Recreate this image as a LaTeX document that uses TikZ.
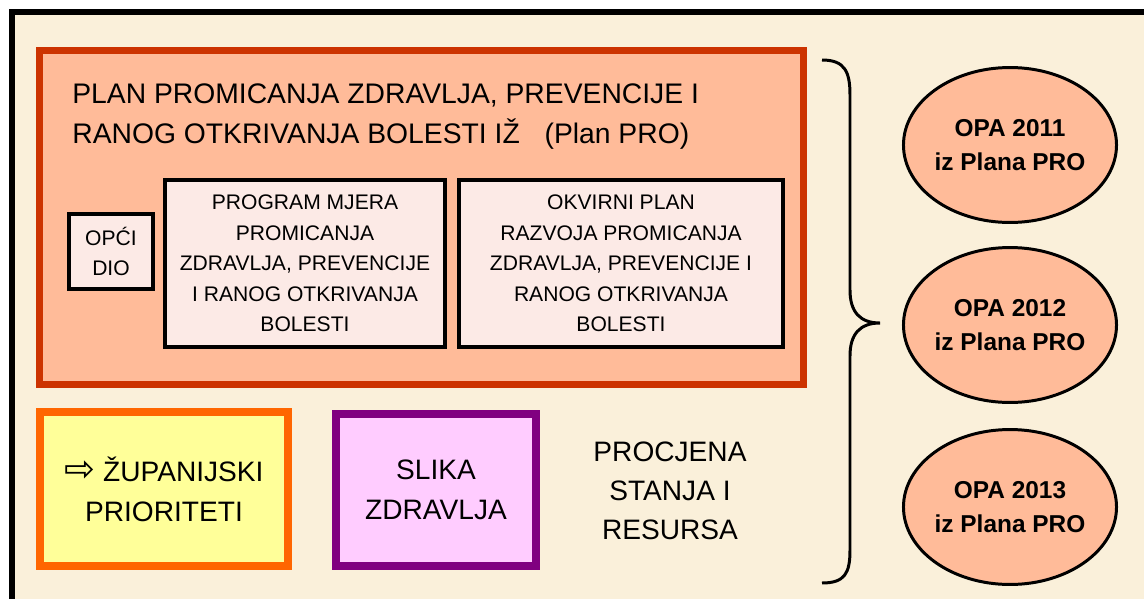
\documentclass[tikz,border=0pt]{standalone}
\usepackage{fontspec}
\setmainfont{Liberation Sans}
\newfontfamily\symfont{DejaVu Sans}
\usetikzlibrary{shapes,positioning}

\definecolor{pozadina}{HTML}{FAF0DA}
\definecolor{planrub}{HTML}{CC3300}
\definecolor{planfill}{HTML}{FFBB99}
\definecolor{diofill}{HTML}{FCEAE6}
\definecolor{zupfill}{HTML}{FFFF99}
\definecolor{zuprub}{HTML}{FF6600}
\definecolor{slikafill}{HTML}{FFCCFF}
\definecolor{slikarub}{HTML}{800080}

\tikzset{
  dio/.style={draw=black, line width=2pt, fill=diofill, align=center, inner sep=0pt,
    font=\fontsize{12pt}{17.4pt}\selectfont},
  veliki/.style={align=center, inner sep=0pt, font=\fontsize{16pt}{22.8pt}\selectfont},
  opa/.style={draw=black, line width=1.7pt, fill=planfill, ellipse, inner sep=0pt,
    minimum width=4.2cm, minimum height=3.1cm, align=center,
    font=\bfseries\fontsize{13.9pt}{19.3pt}\selectfont}
}

\begin{document}
\begin{tikzpicture}[x=0.02cm, y=-0.02cm]
\useasboundingbox (0,0) rectangle (1144,599);
% pozadina i okvir
\fill[white] (0,0) rectangle (1144,599);
\fill[pozadina] (12,12) rectangle (1144,599);
\draw[line width=2.85pt] (12,599) -- (12,12) -- (1144,12);

% Plan PRO
\node[draw=planrub, line width=4pt, fill=planfill, minimum width=15.28cm, minimum height=6.68cm] (plan) at (421.5,217.5) {};
\node[anchor=west, align=left, inner sep=0pt, font=\fontsize{16.1pt}{22.8pt}\selectfont] (naslov) at (72,117) {
PLAN PROMICANJA ZDRAVLJA, PREVENCIJE I \\
RANOG OTKRIVANJA BOLESTI IŽ \hspace{0.6em}(Plan PRO)
};

% dijelovi plana
\node[dio, minimum width=1.68cm, minimum height=1.5cm] (opci) at (111,251.5) {OPĆI\\DIO};
\node[dio, minimum width=5.6cm, minimum height=3.34cm] (program) at (305,263.5) {
PROGRAM MJERA\\
PROMICANJA\\
ZDRAVLJA, PREVENCIJE\\
I RANOG OTKRIVANJA\\
BOLESTI
};
\node[dio, minimum width=6.48cm, minimum height=3.34cm] (okvirni) at (621,263.5) {
OKVIRNI PLAN\\
RAZVOJA PROMICANJA\\
ZDRAVLJA, PREVENCIJE I\\
RANOG OTKRIVANJA\\
BOLESTI
};

% donji red
\node[veliki, draw=zuprub, line width=4.5pt, fill=zupfill, minimum width=4.96cm, minimum height=3.08cm] (zupanijski) at (164,489) {
{\symfont\fontsize{21pt}{21pt}\selectfont ⇨} ŽUPANIJSKI\\
PRIORITETI
};
\node[veliki, draw=slikarub, line width=4.5pt, fill=slikafill, minimum width=4cm, minimum height=3.04cm] (slika) at (436,490) {
SLIKA\\
ZDRAVLJA
};
\node[veliki, font=\fontsize{16pt}{22.2pt}\selectfont] (procjena) at (670,491) {
PROCJENA\\
STANJA I\\
RESURSA
};

% vitica
\draw[line width=1.7pt] (822,60) .. controls (845,60) and (850,72) .. (850,95)
  -- (850,290) .. controls (850,312) and (860,323) .. (880,323)
  .. controls (860,323) and (850,334) .. (850,356)
  -- (850,550) .. controls (850,573) and (845,583) .. (822,583);

% OPA
\node[opa] (opa11) at (1010,145) {OPA 2011\\iz Plana PRO};
\node[opa] (opa12) at (1010,325) {OPA 2012\\iz Plana PRO};
\node[opa] (opa13) at (1010,507) {OPA 2013\\iz Plana PRO};
\end{tikzpicture}
\end{document}
